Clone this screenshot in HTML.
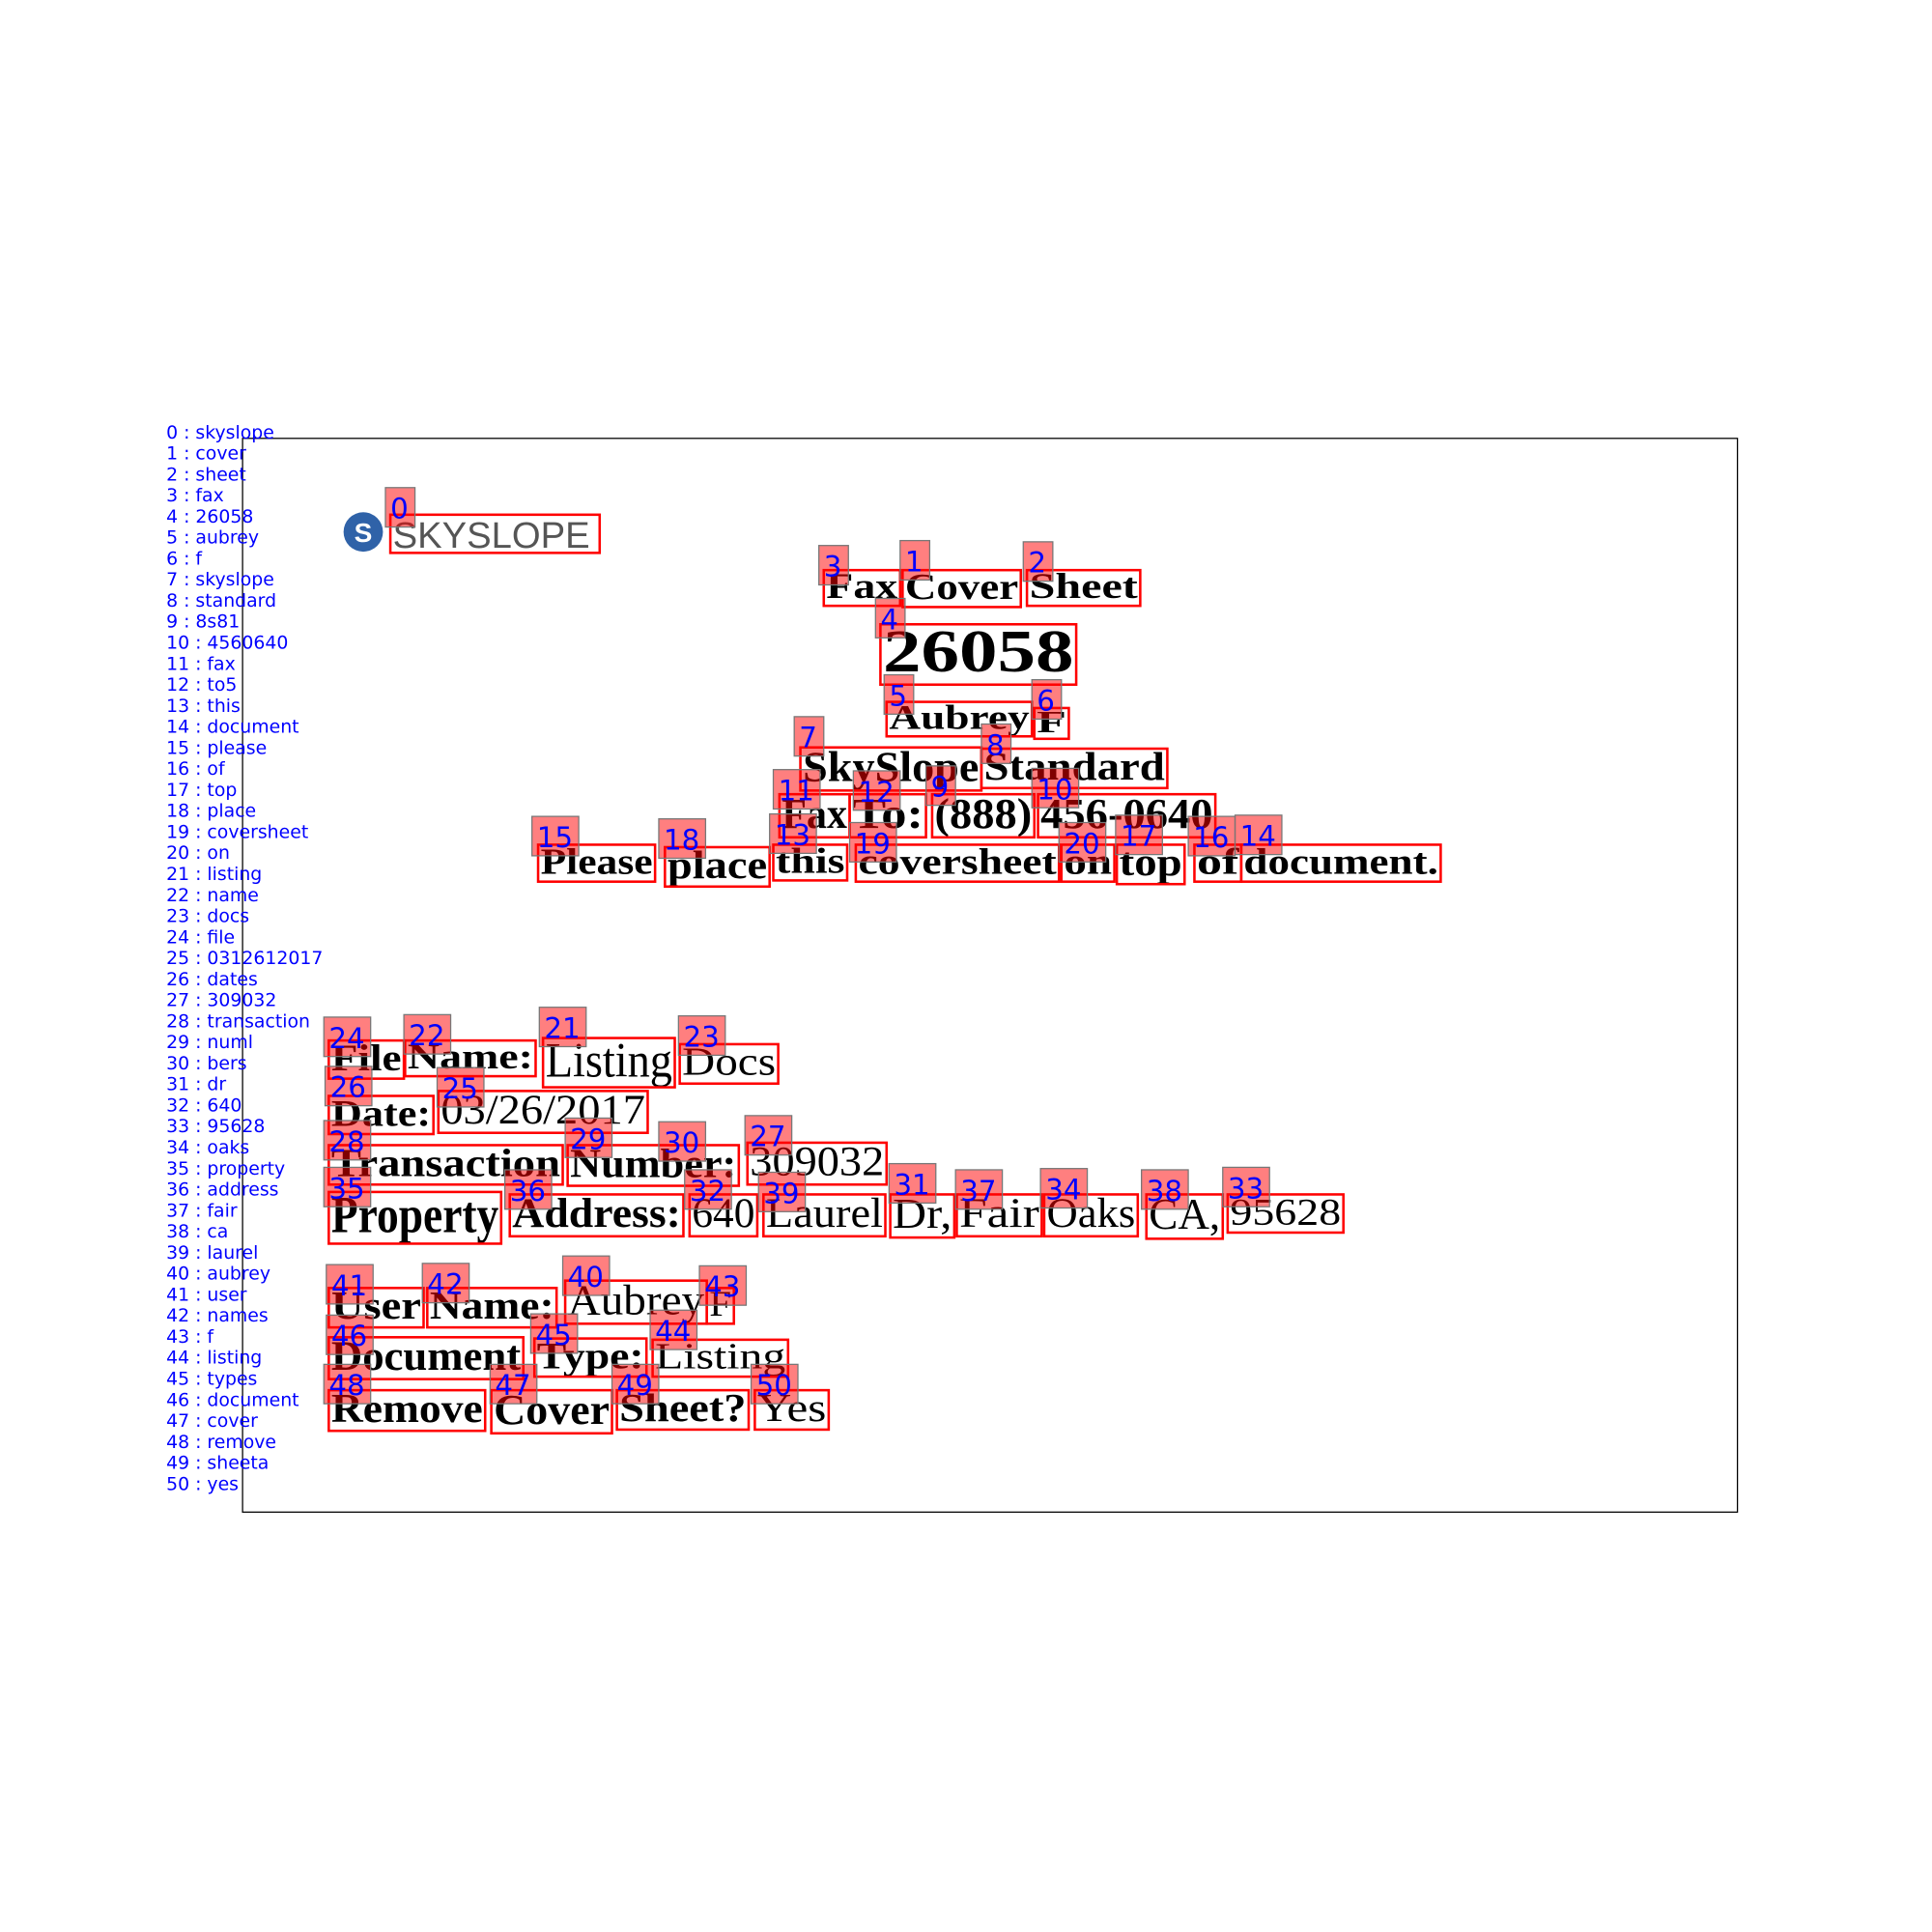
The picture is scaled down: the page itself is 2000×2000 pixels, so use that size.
<!DOCTYPE html>
<html><head><meta charset="utf-8"><style>
html,body{margin:0;padding:0;background:#fff;}
svg{display:block;}
</style></head><body>
<svg id="c" width="2000" height="2000" viewBox="0 0 1569 1569" xmlns="http://www.w3.org/2000/svg">
<rect x="197" y="356" width="1214" height="872" fill="none" stroke="#000" stroke-width="1"/>
<g>
<circle cx="295" cy="432" r="16" fill="#2f62a8"/>
<text x="295" y="440" font-family="Liberation Sans, sans-serif" font-size="22" font-weight="bold" fill="#fff" text-anchor="middle">S</text>
<text x="319" y="445" font-family="Liberation Sans, sans-serif" font-size="30" fill="#555" textLength="160" lengthAdjust="spacingAndGlyphs">SKYSLOPE</text>
</g>
<g id="legend"></g>
<g id="words"></g>
<g id="tags"></g>
</svg>
<script>
const legendLabels=["skyslope","cover","sheet","fax","26058","aubrey","f","skyslope","standard","8s81","4560640","fax","to5","this","document","please","of","top","place","coversheet","on","listing","name","docs","file","0312612017","dates","309032","transaction","numl","bers","dr","640","95628","oaks","property","address","fair","ca","laurel","aubrey","user","names","f","listing","types","document","cover","remove","sheeta","yes"];
// [id, text, bold, x0,y0,x1,y1, tagX, tagY]
const words=[
[0,"",0,317,418,487,449,313,396],
[3,"Fax",1,669,463,731,492,665,443],[1,"Cover",1,733,463,829,493,731,439],[2,"Sheet",1,834,463,926,492,831,440],
[4,"26058",1,715,507,874,556,711,486],[5,"Aubrey",1,720,570,838,598,718,548],[6,"F",1,840,575,868,600,838,552],
[7,"SkySlope",1,650,607,797,642,645,582],[8,"Standard",1,797,608,948,640,797,588],
[11,"Fax",1,633,645,690,680,628,625],[12,"To:",1,690,645,752,680,693,626],[9,"(888)",1,757,645,840,680,752,622],[10,"456-0640",1,843,645,987,680,838,624],
[15,"Please",1,437,686,532,716,432,663],[18,"place",1,540,688,625,720,535,665],[13,"this",1,628,686,688,715,625,661],[19,"coversheet",1,695,686,860,716,690,668],
[20,"on",1,862,686,905,716,860,668],[17,"top",1,907,686,962,718,906,662],[16,"of",1,970,686,1008,716,965,663],[14,"document.",1,1008,686,1170,716,1003,662],
[24,"File",1,267,845,328,876,263,826],[22,"Name:",1,329,845,435,874,328,824],[21,"Listing",0,441,843,548,883,438,818],[23,"Docs",0,552,848,632,880,551,825],
[26,"Date:",1,267,890,352,921,264,866],[25,"03/26/2017",0,356,886,526,920,355,867],
[28,"Transaction",1,267,930,457,962,263,910],[29,"Number:",1,461,930,600,963,459,908],[30,"",0,535,930,600,960,535,911],[27,"309032",0,607,928,720,962,605,906],
[35,"Property",1,267,968,407,1010,263,948],[36,"Address:",1,414,970,555,1004,410,950],[32,"640",0,560,970,615,1004,556,950],[39,"Laurel",0,620,970,719,1004,616,952],
[31,"Dr,",0,723,970,775,1005,722,945],[37,"Fair",0,777,970,846,1004,776,950],[34,"Oaks",0,848,970,924,1004,845,949],[38,"CA,",0,931,970,993,1006,927,950],[33,"95628",0,997,970,1091,1001,993,948],
[41,"User",1,267,1046,344,1078,265,1027],[42,"Name:",1,347,1046,452,1078,343,1026],[40,"Aubrey",0,459,1040,574,1075,457,1020],[43,"F",0,574,1046,596,1075,568,1028],
[46,"Document",1,267,1086,425,1120,265,1068],[45,"Type:",1,434,1087,525,1118,431,1067],[44,"Listing",0,530,1088,640,1118,528,1064],
[48,"Remove",1,267,1129,394,1162,263,1108],[47,"Cover",1,399,1129,497,1164,398,1108],[49,"Sheet?",1,501,1129,608,1161,497,1108],[50,"Yes",0,613,1129,673,1161,610,1108]
];
const NS="http://www.w3.org/2000/svg";
const lg=document.getElementById('legend');
legendLabels.forEach((l,i)=>{
  const t=document.createElementNS(NS,'text');
  
  
  t.setAttribute('x',135);t.setAttribute('y',356+i*17.08);
  t.setAttribute('font-family','DejaVu Sans, sans-serif');t.setAttribute('font-size','14.8');t.setAttribute('fill','#0000ff');
  t.textContent=i+" : "+l;lg.appendChild(t);
});
const wg=document.getElementById('words'),tg=document.getElementById('tags');
words.forEach(w=>{
  const [id,txt,b,x0,y0,x1,y1,tx,ty]=w;
  const h=y1-y0;
  if(txt){
    const t=document.createElementNS(NS,'text');
    
    
    t.setAttribute('x',x0+2);t.setAttribute('y',y1-h*0.22);
    t.setAttribute('font-family','Liberation Serif, serif');
    t.setAttribute('font-size',(h*1.0).toFixed(1));
    if(b)t.setAttribute('font-weight','bold');
    t.setAttribute('textLength',x1-x0-4);t.setAttribute('lengthAdjust','spacingAndGlyphs');
    t.textContent=txt;wg.appendChild(t);
  }
  if(txt||id===0){
    const r=document.createElementNS(NS,'rect');
    
    
    r.setAttribute('x',x0);r.setAttribute('y',y0);r.setAttribute('width',x1-x0);r.setAttribute('height',h);
    r.setAttribute('fill','none');r.setAttribute('stroke','#ff0000');r.setAttribute('stroke-width','2');
    wg.appendChild(r);
  }
  const s=String(id),tw=s.length>1?38:24;
  const r2=document.createElementNS(NS,'rect');
  
  
  r2.setAttribute('x',tx);r2.setAttribute('y',ty);r2.setAttribute('width',tw);r2.setAttribute('height',32);
  r2.setAttribute('fill','rgba(255,0,0,0.5)');r2.setAttribute('stroke','#777');r2.setAttribute('stroke-width','1');
  tg.appendChild(r2);
  const t2=document.createElementNS(NS,'text');
  
  
  t2.setAttribute('x',tx+4);t2.setAttribute('y',ty+25);
  t2.setAttribute('font-family','DejaVu Sans, sans-serif');t2.setAttribute('font-size','23');t2.setAttribute('fill','#0000ff');
  t2.textContent=s;tg.appendChild(t2);
});
</script>
</body></html>
